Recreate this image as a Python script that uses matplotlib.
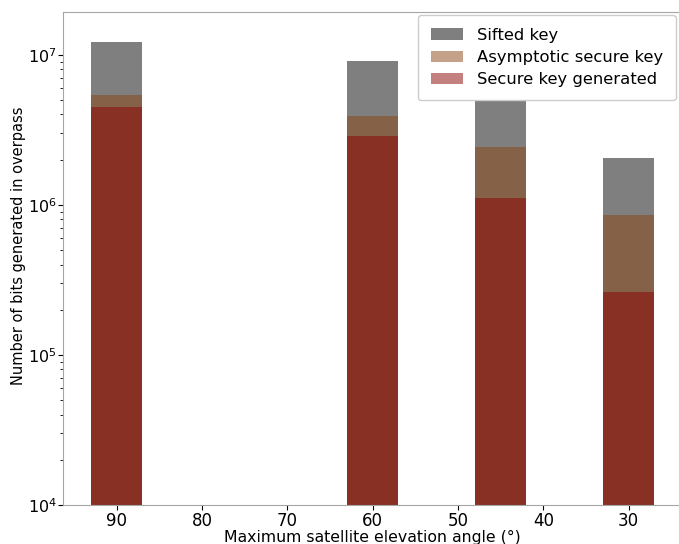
"""Key bits generated per overpass against maximum elevation angle."""

import matplotlib
matplotlib.use("Agg")
import matplotlib.pyplot as plt
import numpy as np

# Maximum elevation of each simulated overpass (degrees)
elevation = np.array([90, 60, 45, 30])

# Bits per overpass for each key stage
sifted_key = np.array([1.22e7, 9.1e6, 5.3e6, 2.05e6])
asymptotic_key = np.array([5.4e6, 3.9e6, 2.44e6, 8.6e5])
secure_key = np.array([4.5e6, 2.88e6, 1.11e6, 2.62e5])

fig = plt.figure(figsize=(6.79, 5.44), dpi=100)
ax = fig.add_axes([0.093, 0.072, 0.912, 0.906])

ax.bar(elevation, sifted_key, width=6, color="k", alpha=0.5, label="Sifted key")
ax.bar(elevation, asymptotic_key, width=6, color="saddlebrown", alpha=0.5,
       label="Asymptotic secure key")
ax.bar(elevation, secure_key, width=6, color="darkred", alpha=0.5,
       label="Secure key generated")

ax.set_yscale("log")
ax.set_ylim(1e4, 1.93e7)
ax.set_xlim(96.3, 23.7)
ax.set_xticks([90, 80, 70, 60, 50, 40, 30])
ax.tick_params(axis="x", which="major", labelsize=12, pad=2)
ax.tick_params(axis="y", which="major", labelsize=11.5, pad=1)

ax.set_xlabel("Maximum satellite elevation angle (°)", fontsize=11.3, labelpad=0)
ax.set_ylabel("Number of bits generated in overpass", fontsize=10.5)
ax.yaxis.set_label_coords(-0.060, 0.525)

for spine in ax.spines.values():
    spine.set_color("0.65")

ax.legend(loc="upper right", bbox_to_anchor=(0.989, 0.994), borderaxespad=0,
          framealpha=1, fontsize=11.8, handlelength=2.0, labelspacing=0.45,
          borderpad=0.78)

fig.savefig("out.png", dpi=100)
plt.close(fig)
